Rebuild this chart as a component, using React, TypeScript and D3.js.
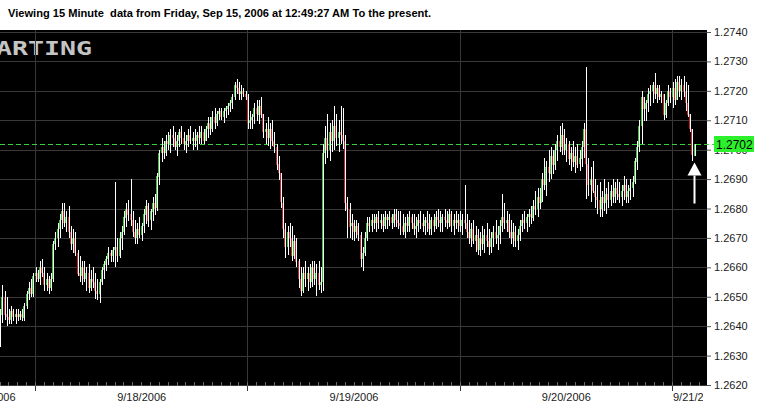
import React, { useRef, useEffect } from 'react';
import * as d3 from 'd3';

// prices are kept in pips above 1.2600; each bar is [high, low, close],
// open is the previous bar's close (15 minute FX bars)
const BASE = 1.26;
const firstOpen = 36;

const fri15 = [
  [46, 33, 44], [54, 41, 50], [52, 42, 44], [50, 40, 43], [46, 41, 42], [47, 41, 45], [46, 42, 43], [46, 41, 44],
  [46, 42, 43], [45, 42, 44], [46, 42, 43], [48, 42, 47], [52, 46, 51], [55, 49, 53], [56, 50, 51], [58, 50, 57],
];

const mon18 = [
  [60, 55, 58], [59, 55, 56], [62, 54, 60], [63, 57, 58], [60, 52, 54], [58, 52, 56], [57, 51, 53], [58, 52, 56],
  [69, 55, 68], [72, 66, 70], [75, 67, 73], [78, 70, 76], [82, 73, 79], [82, 74, 75], [79, 72, 77], [81, 70, 72],
  [74, 66, 68], [73, 65, 70], [72, 64, 65], [66, 57, 58], [64, 55, 57], [62, 54, 60], [62, 55, 56], [60, 52, 58],
  [61, 51, 53], [59, 52, 56], [60, 53, 55], [58, 49, 52], [56, 49, 51], [56, 48, 55], [60, 54, 59], [62, 56, 61],
  [64, 59, 63], [67, 61, 65], [66, 62, 64], [67, 62, 66], [89, 60, 67], [70, 62, 64], [72, 63, 70], [74, 66, 72],
  [79, 71, 77], [82, 74, 80], [83, 76, 78], [90, 74, 76], [79, 70, 72], [76, 68, 70], [75, 68, 73], [77, 70, 71],
  [75, 69, 74], [80, 72, 78], [83, 75, 81], [82, 74, 76], [80, 73, 79], [84, 76, 82], [85, 78, 80], [92, 79, 91],
  [100, 88, 99], [104, 96, 101], [103, 97, 99], [105, 98, 103], [106, 100, 102], [107, 99, 105], [108, 101, 104], [106, 100, 101],
  [105, 98, 103], [107, 101, 106], [108, 102, 104], [106, 100, 102], [105, 99, 103], [107, 101, 105], [108, 102, 103], [106, 100, 104],
  [107, 101, 103], [106, 100, 105], [108, 102, 104], [108, 102, 106], [107, 102, 103], [108, 103, 107], [111, 104, 109], [111, 105, 107],
  [113, 106, 111], [114, 107, 109], [113, 108, 112], [114, 110, 113], [114, 110, 111], [114, 109, 113], [115, 111, 114], [116, 112, 115],
  [117, 113, 116], [119, 114, 118], [123, 117, 122], [124, 119, 121], [123, 117, 119], [122, 117, 120], [121, 118, 119], [120, 117, 118],
];

const tue19 = [
  [119, 107, 109], [113, 107, 110], [112, 107, 111], [116, 109, 114], [117, 110, 112], [117, 109, 115], [118, 111, 112], [112, 104, 106],
  [109, 102, 107], [111, 101, 104], [109, 100, 107], [110, 101, 103], [106, 99, 101], [102, 93, 95], [98, 90, 92], [92, 80, 82],
  [84, 70, 73], [75, 63, 67], [74, 64, 72], [75, 67, 70], [74, 62, 64], [71, 63, 69], [70, 60, 62], [63, 53, 56],
  [60, 50, 52], [60, 51, 58], [62, 53, 56], [60, 52, 58], [61, 53, 55], [62, 53, 60], [62, 54, 56], [61, 50, 58],
  [62, 52, 54], [60, 51, 55], [102, 52, 99], [108, 95, 104], [112, 97, 100], [109, 96, 106], [110, 99, 103], [115, 100, 108],
  [112, 101, 104], [110, 99, 106], [115, 102, 105], [114, 100, 103], [105, 79, 82], [84, 70, 80], [82, 70, 74], [78, 69, 75],
  [76, 69, 72], [76, 70, 74], [75, 69, 71], [72, 60, 63], [67, 59, 65], [72, 64, 70], [77, 69, 75], [77, 72, 74],
  [78, 72, 76], [78, 73, 75], [78, 72, 77], [79, 73, 75], [78, 73, 76], [78, 72, 74], [79, 73, 77], [78, 73, 76],
  [79, 74, 77], [78, 73, 75], [80, 74, 78], [80, 74, 76], [79, 73, 75], [79, 71, 74], [78, 71, 72], [77, 70, 75],
  [78, 72, 74], [79, 72, 77], [78, 73, 75], [78, 71, 73], [77, 70, 74], [78, 72, 76], [79, 73, 75], [78, 72, 74],
  [77, 71, 76], [79, 72, 75], [78, 71, 73], [77, 71, 76], [78, 72, 74], [79, 73, 77], [80, 74, 76], [79, 72, 75],
  [78, 72, 77], [80, 74, 76], [79, 73, 75], [80, 74, 78], [79, 72, 74], [78, 71, 76], [79, 73, 75], [78, 72, 76],
];

const wed20 = [
  [79, 72, 74], [78, 71, 76], [88, 73, 75], [78, 70, 72], [76, 68, 70], [75, 67, 73], [76, 68, 69], [74, 65, 71],
  [73, 64, 66], [72, 64, 70], [74, 66, 68], [73, 65, 71], [75, 67, 69], [73, 64, 67], [72, 65, 70], [74, 67, 72],
  [76, 68, 70], [74, 66, 71], [76, 68, 74], [85, 72, 77], [82, 73, 75], [79, 72, 76], [78, 70, 72], [76, 68, 70],
  [75, 67, 72], [74, 67, 69], [73, 66, 71], [76, 69, 74], [78, 72, 76], [79, 73, 75], [78, 72, 77], [80, 74, 78],
  [81, 75, 77], [83, 76, 81], [86, 78, 80], [87, 77, 84], [87, 80, 82], [92, 82, 90], [97, 86, 88], [96, 84, 94],
  [100, 89, 92], [101, 90, 98], [100, 92, 95], [102, 93, 100], [105, 96, 103], [108, 99, 101], [109, 98, 105], [107, 98, 100],
  [104, 96, 102], [103, 95, 97], [101, 93, 99], [103, 94, 96], [101, 92, 98], [102, 94, 95], [100, 93, 97], [103, 94, 101],
  [109, 97, 107], [128, 83, 95], [97, 84, 88], [94, 82, 90], [96, 85, 86], [90, 80, 84], [88, 78, 83], [89, 77, 80],
  [86, 77, 84], [90, 79, 82], [87, 78, 85], [89, 80, 83], [88, 81, 86], [90, 82, 84], [89, 82, 87], [90, 83, 85],
  [89, 82, 84], [88, 81, 86], [91, 83, 88], [90, 82, 84], [88, 82, 86], [90, 83, 87], [91, 84, 89], [97, 88, 96],
  [103, 93, 101], [110, 99, 108], [120, 102, 118], [118, 110, 114], [117, 110, 116], [121, 113, 119], [122, 115, 120], [123, 116, 122],
  [126, 117, 119], [122, 116, 121], [122, 117, 118], [120, 116, 119], [119, 110, 112], [117, 111, 116], [122, 115, 120], [121, 116, 118],
];

const thu21 = [
  [123, 114, 121], [124, 115, 117], [125, 117, 123], [125, 118, 120], [124, 117, 122], [125, 118, 120],
  [123, 113, 116], [122, 111, 112], [112, 106, 107], [107, 96, 98], [102, 98, 102],
];

const dayLabels = ['9/15/2006', '9/18/2006', '9/19/2006', '9/20/2006', '9/21/2006'];
const priceTicks = [1.262, 1.263, 1.264, 1.265, 1.266, 1.267, 1.268, 1.269, 1.27, 1.271, 1.272, 1.273, 1.274];
const lastPrice = 1.2702;
const title = 'Viewing 15 Minute  data from Friday, Sep 15, 2006 at 12:49:27 AM To the present.';

const width = 759;
const height = 407;
const plot = { left: 0, right: 707, top: 30, bottom: 386 };
const font = '"Liberation Sans", Arial, sans-serif';

const App = () => {
  const ref = useRef<SVGSVGElement>(null);

  useEffect(() => {
    const svg = d3.select(ref.current);
    svg.selectAll('*').remove();

    const days = [fri15, mon18, tue19, wed20, thu21];
    const starts: number[] = [];
    let n = 0;
    days.forEach((d) => {
      starts.push(n);
      n += d.length;
    });

    let prev = firstOpen;
    const bars = days.flat().map(([h, l, c], i) => {
      const b = { i, o: prev, h, l, c };
      prev = c;
      return b;
    });

    const p = (v: number) => BASE + v / 10000;
    const x = d3.scaleLinear().domain([starts[1], starts[4]]).range([35.5, 672.5]);
    const y = d3.scaleLinear().domain([1.262, 1.274]).range([385, 32]);

    svg.append('rect').attr('width', width).attr('height', height).attr('fill', '#fff');

    // header
    svg
      .append('text')
      .attr('x', 8)
      .attr('y', 17)
      .style('white-space', 'pre')
      .attr('font-family', font)
      .attr('font-weight', 'bold')
      .attr('font-size', 11.1)
      .attr('fill', '#000')
      .text(title);

    // plot background
    svg
      .append('rect')
      .attr('x', plot.left)
      .attr('y', plot.top)
      .attr('width', plot.right - plot.left)
      .attr('height', plot.bottom - plot.top)
      .attr('fill', '#000');

    const defs = svg.append('defs');
    defs
      .append('clipPath')
      .attr('id', 'plotclip')
      .append('rect')
      .attr('x', plot.left)
      .attr('y', plot.top)
      .attr('width', plot.right - plot.left)
      .attr('height', plot.bottom - plot.top);
    defs
      .append('clipPath')
      .attr('id', 'labclip')
      .append('rect')
      .attr('x', 0)
      .attr('y', plot.bottom)
      .attr('width', 703)
      .attr('height', 30);

    // watermark
    svg
      .append('text')
      .attr('x', -4)
      .attr('y', 55)
      .attr('textLength', 96)
      .attr('lengthAdjust', 'spacingAndGlyphs')
      .attr('font-family', '"DejaVu Sans Mono", monospace')
      .attr('font-weight', 'bold')
      .attr('font-size', 20)
      .attr('fill', '#c4c4c4')
      .text('ARTING');

    const grid = svg.append('g').attr('shape-rendering', 'crispEdges');
    grid
      .selectAll('line.h')
      .data(priceTicks)
      .join('line')
      .attr('x1', plot.left)
      .attr('x2', plot.right)
      .attr('y1', (d) => Math.round(y(d)) + 0.5)
      .attr('y2', (d) => Math.round(y(d)) + 0.5)
      .attr('stroke', '#383838');
    grid
      .selectAll('line.v')
      .data(starts.slice(1))
      .join('line')
      .attr('x1', (d) => Math.floor(x(d)) + 0.5)
      .attr('x2', (d) => Math.floor(x(d)) + 0.5)
      .attr('y1', plot.top)
      .attr('y2', plot.bottom + 5)
      .attr('stroke', '#383838');

    // hourly minor ticks along the bottom
    grid
      .selectAll('line.m')
      .data(d3.range(0, n + 4, 4))
      .join('line')
      .attr('x1', (d) => Math.floor(x(d)) + 0.5)
      .attr('x2', (d) => Math.floor(x(d)) + 0.5)
      .attr('y1', plot.bottom - 4)
      .attr('y2', plot.bottom)
      .attr('stroke', '#6a6a6a');

    // current price line
    svg
      .append('line')
      .attr('x1', plot.left)
      .attr('x2', 714)
      .attr('y1', Math.round(y(lastPrice)) + 0.5)
      .attr('y2', Math.round(y(lastPrice)) + 0.5)
      .attr('stroke', '#3ccf3c')
      .attr('stroke-dasharray', '5,3');

    // candles: coloured body column, white high-low column to its right
    const candles = svg.append('g').attr('clip-path', 'url(#plotclip)').attr('shape-rendering', 'crispEdges');
    candles
      .selectAll('rect.body')
      .data(bars.filter((b) => b.o !== b.c))
      .join('rect')
      .attr('x', (b) => Math.round(x(b.i)) - 1)
      .attr('width', 1)
      .attr('y', (b) => Math.round(y(p(Math.max(b.o, b.c)))))
      .attr('height', (b) => Math.max(1, Math.round(Math.abs(y(p(b.o)) - y(p(b.c))))))
      .attr('fill', (b) => (b.c > b.o ? '#37c837' : '#c3232a'));
    candles
      .selectAll('rect.wick')
      .data(bars)
      .join('rect')
      .attr('x', (b) => Math.round(x(b.i)))
      .attr('width', 1)
      .attr('y', (b) => Math.round(y(p(b.h))))
      .attr('height', (b) => Math.max(1, Math.round(y(p(b.l)) - y(p(b.h)))))
      .attr('fill', '#fff');

    // arrow under the last bar
    const last = bars[bars.length - 1];
    const ax = Math.round(x(last.i)) - 0.5;
    const tip = y(p(last.l)) + 7;
    svg
      .append('path')
      .attr('d', `M${ax},${tip}L${ax - 7},${tip + 13}L${ax + 7},${tip + 13}Z`)
      .attr('fill', '#fff');
    svg
      .append('rect')
      .attr('x', ax - 1)
      .attr('y', tip + 13)
      .attr('width', 2)
      .attr('height', 28)
      .attr('fill', '#fff');

    // y axis on the right
    const yAxis = svg
      .append('g')
      .attr('transform', `translate(${plot.right},0)`)
      .call(d3.axisRight(y).tickValues(priceTicks).tickFormat(d3.format('.4f')).tickSize(4).tickPadding(3));
    yAxis.select('.domain').remove();
    yAxis.selectAll('line').attr('stroke', '#555');
    yAxis.selectAll('text').attr('font-family', font).attr('font-size', 11).attr('fill', '#1a1a1a');

    // x labels: full days centred, partial days at the edges
    const xl = svg
      .append('g')
      .attr('font-family', font)
      .attr('font-size', 11)
      .attr('fill', '#1a1a1a');
    dayLabels.forEach((lab, k) => {
      let tx = x(starts[k] + 48);
      let anchor = 'middle';
      if (k === 0) {
        tx = x(starts[1]) - 20;
        anchor = 'end';
      } else if (k === dayLabels.length - 1) {
        tx = x(starts[k]) + 0.5;
        anchor = 'start';
      }
      const t = xl.append('text').attr('x', tx).attr('y', 401).attr('text-anchor', anchor).text(lab);
      if (k === dayLabels.length - 1) t.attr('clip-path', 'url(#labclip)');
    });

    // current price box
    const by = Math.round(y(lastPrice));
    svg
      .append('rect')
      .attr('x', 714)
      .attr('y', by - 8)
      .attr('width', 40)
      .attr('height', 16)
      .attr('fill', '#2cf02c');
    svg
      .append('text')
      .attr('x', 716)
      .attr('y', by + 5)
      .attr('font-family', font)
      .attr('font-size', 12)
      .attr('fill', '#000')
      .text(d3.format('.4f')(lastPrice));
  }, []);

  return (
    <>
      <style>{'body{margin:0}'}</style>
      <svg ref={ref} width={width} height={height} style={{ display: 'block' }} />
    </>
  );
};

export default App;
